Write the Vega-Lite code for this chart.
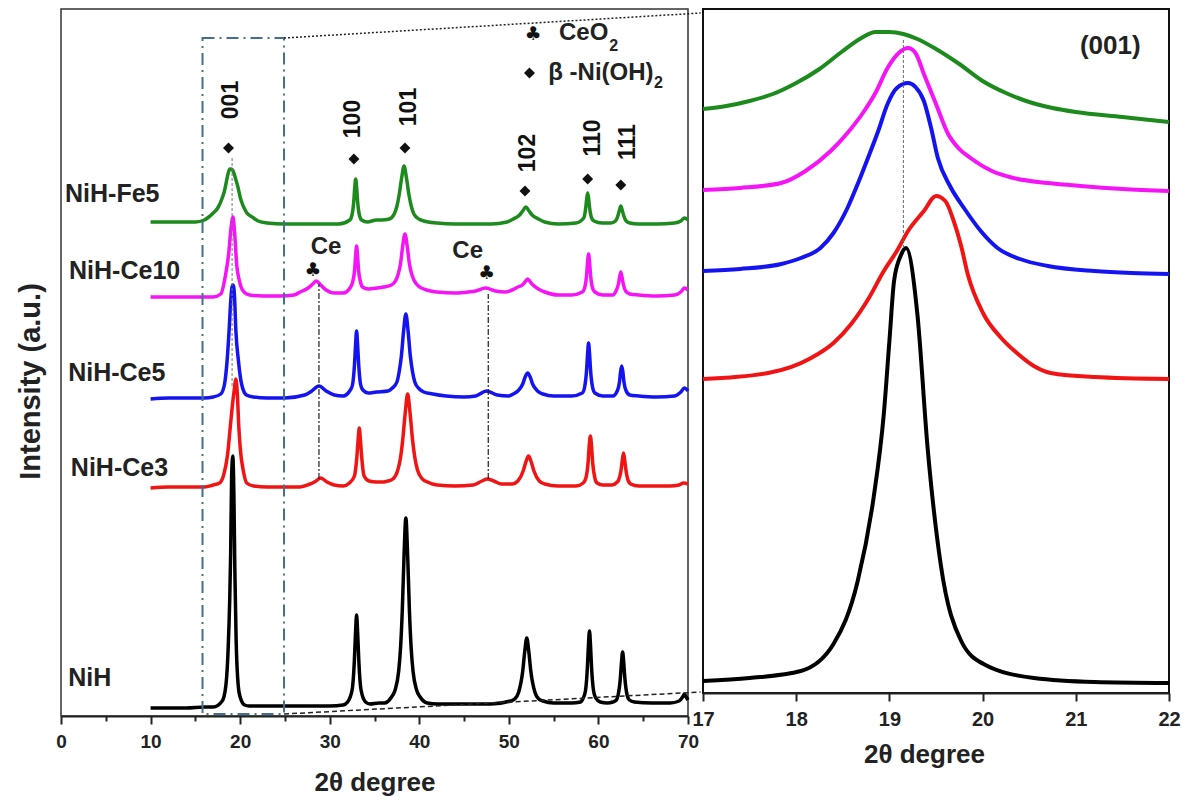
{
"$schema": "https://vega.github.io/schema/vega-lite/v6.json",
"padding": {"left": 15, "top": 8, "right": 5, "bottom": 5},
"background": "white",
"config": {"font": "Liberation Sans", "text": {"font": "Liberation Sans", "fontWeight": "bold", "color": "#111"}},
"datasets": {
"left": [
{"s":"NiH","x":10,"y":8},{"s":"NiH","x":12,"y":8},{"s":"NiH","x":14,"y":8},{"s":"NiH","x":16,"y":9},{"s":"NiH","x":17,"y":9},{"s":"NiH","x":18.0,"y":15},{"s":"NiH","x":18.4,"y":30},{"s":"NiH","x":18.66,"y":67},{"s":"NiH","x":18.83,"y":114},{"s":"NiH","x":18.94,"y":162},{"s":"NiH","x":19.05,"y":240},{"s":"NiH","x":19.18,"y":260},{"s":"NiH","x":19.3,"y":222},{"s":"NiH","x":19.41,"y":145},{"s":"NiH","x":19.55,"y":77},{"s":"NiH","x":19.77,"y":32},{"s":"NiH","x":20.0,"y":19},{"s":"NiH","x":20.5,"y":11},{"s":"NiH","x":21,"y":10},{"s":"NiH","x":22,"y":10},{"s":"NiH","x":24,"y":10},{"s":"NiH","x":26,"y":10},{"s":"NiH","x":28,"y":10},{"s":"NiH","x":30,"y":10},{"s":"NiH","x":31.5,"y":11},{"s":"NiH","x":32.0,"y":14},{"s":"NiH","x":32.5,"y":26},{"s":"NiH","x":32.75,"y":55},{"s":"NiH","x":32.88,"y":83},{"s":"NiH","x":33.0,"y":101},{"s":"NiH","x":33.12,"y":83},{"s":"NiH","x":33.25,"y":55},{"s":"NiH","x":33.5,"y":26},{"s":"NiH","x":34.0,"y":14},{"s":"NiH","x":34.5,"y":12},{"s":"NiH","x":35.5,"y":13},{"s":"NiH","x":36.1,"y":13},{"s":"NiH","x":36.9,"y":19},{"s":"NiH","x":37.3,"y":26},{"s":"NiH","x":37.7,"y":45},{"s":"NiH","x":37.9,"y":67},{"s":"NiH","x":38.1,"y":105},{"s":"NiH","x":38.3,"y":161},{"s":"NiH","x":38.5,"y":198},{"s":"NiH","x":38.7,"y":161},{"s":"NiH","x":38.9,"y":105},{"s":"NiH","x":39.1,"y":67},{"s":"NiH","x":39.3,"y":45},{"s":"NiH","x":39.7,"y":26},{"s":"NiH","x":40.1,"y":19},{"s":"NiH","x":40.9,"y":13},{"s":"NiH","x":42,"y":12},{"s":"NiH","x":44,"y":12},{"s":"NiH","x":46,"y":12},{"s":"NiH","x":48,"y":12},{"s":"NiH","x":50.2,"y":15},{"s":"NiH","x":50.65,"y":17},{"s":"NiH","x":51.1,"y":24},{"s":"NiH","x":51.55,"y":45},{"s":"NiH","x":51.78,"y":65},{"s":"NiH","x":52.0,"y":78},{"s":"NiH","x":52.22,"y":65},{"s":"NiH","x":52.45,"y":45},{"s":"NiH","x":52.9,"y":24},{"s":"NiH","x":53.35,"y":17},{"s":"NiH","x":53.8,"y":15},{"s":"NiH","x":55,"y":13},{"s":"NiH","x":57,"y":13},{"s":"NiH","x":58.0,"y":14},{"s":"NiH","x":58.3,"y":18},{"s":"NiH","x":58.55,"y":25},{"s":"NiH","x":58.77,"y":49},{"s":"NiH","x":58.88,"y":70},{"s":"NiH","x":59.0,"y":85},{"s":"NiH","x":59.12,"y":70},{"s":"NiH","x":59.23,"y":49},{"s":"NiH","x":59.46,"y":25},{"s":"NiH","x":59.7,"y":18},{"s":"NiH","x":60.2,"y":14},{"s":"NiH","x":61.0,"y":13},{"s":"NiH","x":61.6,"y":14},{"s":"NiH","x":62.0,"y":16},{"s":"NiH","x":62.2,"y":21},{"s":"NiH","x":62.45,"y":38},{"s":"NiH","x":62.58,"y":54},{"s":"NiH","x":62.7,"y":64},{"s":"NiH","x":62.82,"y":54},{"s":"NiH","x":62.95,"y":38},{"s":"NiH","x":63.2,"y":21},{"s":"NiH","x":63.45,"y":16},{"s":"NiH","x":64,"y":14},{"s":"NiH","x":66,"y":13},{"s":"NiH","x":68,"y":13},{"s":"NiH","x":69.0,"y":15},{"s":"NiH","x":69.4,"y":19},{"s":"NiH","x":69.6,"y":22},{"s":"NiH","x":69.8,"y":19},{"s":"NiH","x":70,"y":16},
{"s":"NiH-Ce3","x":10,"y":228},{"s":"NiH-Ce3","x":12,"y":229},{"s":"NiH-Ce3","x":14,"y":229},{"s":"NiH-Ce3","x":16,"y":229},{"s":"NiH-Ce3","x":17.0,"y":231},{"s":"NiH-Ce3","x":17.7,"y":233},{"s":"NiH-Ce3","x":18.16,"y":241},{"s":"NiH-Ce3","x":18.59,"y":261},{"s":"NiH-Ce3","x":18.94,"y":293},{"s":"NiH-Ce3","x":19.2,"y":316},{"s":"NiH-Ce3","x":19.37,"y":328},{"s":"NiH-Ce3","x":19.5,"y":337},{"s":"NiH-Ce3","x":19.69,"y":322},{"s":"NiH-Ce3","x":19.84,"y":291},{"s":"NiH-Ce3","x":20.01,"y":268},{"s":"NiH-Ce3","x":20.38,"y":244},{"s":"NiH-Ce3","x":20.73,"y":233},{"s":"NiH-Ce3","x":21.5,"y":230},{"s":"NiH-Ce3","x":23,"y":229},{"s":"NiH-Ce3","x":25,"y":229},{"s":"NiH-Ce3","x":26.5,"y":229},{"s":"NiH-Ce3","x":27.5,"y":231},{"s":"NiH-Ce3","x":28.3,"y":234},{"s":"NiH-Ce3","x":29.0,"y":238},{"s":"NiH-Ce3","x":29.7,"y":234},{"s":"NiH-Ce3","x":30.5,"y":231},{"s":"NiH-Ce3","x":31.5,"y":230},{"s":"NiH-Ce3","x":32.2,"y":233},{"s":"NiH-Ce3","x":32.76,"y":240},{"s":"NiH-Ce3","x":33.03,"y":259},{"s":"NiH-Ce3","x":33.17,"y":276},{"s":"NiH-Ce3","x":33.3,"y":288},{"s":"NiH-Ce3","x":33.43,"y":276},{"s":"NiH-Ce3","x":33.57,"y":259},{"s":"NiH-Ce3","x":33.84,"y":240},{"s":"NiH-Ce3","x":34.4,"y":235},{"s":"NiH-Ce3","x":35.2,"y":234},{"s":"NiH-Ce3","x":36.0,"y":234},{"s":"NiH-Ce3","x":36.5,"y":235},{"s":"NiH-Ce3","x":37.05,"y":237},{"s":"NiH-Ce3","x":37.6,"y":246},{"s":"NiH-Ce3","x":37.88,"y":257},{"s":"NiH-Ce3","x":38.15,"y":276},{"s":"NiH-Ce3","x":38.43,"y":303},{"s":"NiH-Ce3","x":38.7,"y":322},{"s":"NiH-Ce3","x":38.97,"y":303},{"s":"NiH-Ce3","x":39.25,"y":276},{"s":"NiH-Ce3","x":39.53,"y":257},{"s":"NiH-Ce3","x":39.8,"y":246},{"s":"NiH-Ce3","x":40.35,"y":237},{"s":"NiH-Ce3","x":40.9,"y":234},{"s":"NiH-Ce3","x":42,"y":231},{"s":"NiH-Ce3","x":44,"y":230},{"s":"NiH-Ce3","x":46.0,"y":231},{"s":"NiH-Ce3","x":47.0,"y":235},{"s":"NiH-Ce3","x":47.6,"y":237},{"s":"NiH-Ce3","x":48.3,"y":235},{"s":"NiH-Ce3","x":49.2,"y":232},{"s":"NiH-Ce3","x":50.4,"y":232},{"s":"NiH-Ce3","x":51.0,"y":235},{"s":"NiH-Ce3","x":51.6,"y":245},{"s":"NiH-Ce3","x":51.9,"y":254},{"s":"NiH-Ce3","x":52.2,"y":260},{"s":"NiH-Ce3","x":52.5,"y":254},{"s":"NiH-Ce3","x":52.8,"y":245},{"s":"NiH-Ce3","x":53.4,"y":235},{"s":"NiH-Ce3","x":54.0,"y":232},{"s":"NiH-Ce3","x":55.5,"y":230},{"s":"NiH-Ce3","x":57.5,"y":230},{"s":"NiH-Ce3","x":58.3,"y":233},{"s":"NiH-Ce3","x":58.6,"y":238},{"s":"NiH-Ce3","x":58.85,"y":254},{"s":"NiH-Ce3","x":58.97,"y":270},{"s":"NiH-Ce3","x":59.1,"y":280},{"s":"NiH-Ce3","x":59.23,"y":270},{"s":"NiH-Ce3","x":59.35,"y":254},{"s":"NiH-Ce3","x":59.6,"y":238},{"s":"NiH-Ce3","x":59.85,"y":233},{"s":"NiH-Ce3","x":60.5,"y":231},{"s":"NiH-Ce3","x":61.5,"y":231},{"s":"NiH-Ce3","x":62.1,"y":234},{"s":"NiH-Ce3","x":62.26,"y":236},{"s":"NiH-Ce3","x":62.53,"y":246},{"s":"NiH-Ce3","x":62.67,"y":256},{"s":"NiH-Ce3","x":62.8,"y":263},{"s":"NiH-Ce3","x":62.93,"y":256},{"s":"NiH-Ce3","x":63.07,"y":246},{"s":"NiH-Ce3","x":63.34,"y":235},{"s":"NiH-Ce3","x":63.6,"y":232},{"s":"NiH-Ce3","x":64.5,"y":230},{"s":"NiH-Ce3","x":66,"y":230},{"s":"NiH-Ce3","x":68,"y":230},{"s":"NiH-Ce3","x":69.0,"y":231},{"s":"NiH-Ce3","x":69.5,"y":233},{"s":"NiH-Ce3","x":70,"y":232},
{"s":"NiH-Ce5","x":10,"y":317},{"s":"NiH-Ce5","x":12,"y":318},{"s":"NiH-Ce5","x":14,"y":318},{"s":"NiH-Ce5","x":16,"y":318},{"s":"NiH-Ce5","x":17.0,"y":319},{"s":"NiH-Ce5","x":17.84,"y":322},{"s":"NiH-Ce5","x":18.26,"y":332},{"s":"NiH-Ce5","x":18.55,"y":356},{"s":"NiH-Ce5","x":18.77,"y":386},{"s":"NiH-Ce5","x":18.98,"y":419},{"s":"NiH-Ce5","x":19.1,"y":429},{"s":"NiH-Ce5","x":19.2,"y":431},{"s":"NiH-Ce5","x":19.3,"y":428},{"s":"NiH-Ce5","x":19.37,"y":420},{"s":"NiH-Ce5","x":19.52,"y":386},{"s":"NiH-Ce5","x":19.8,"y":356},{"s":"NiH-Ce5","x":20.16,"y":332},{"s":"NiH-Ce5","x":20.7,"y":321},{"s":"NiH-Ce5","x":21.5,"y":319},{"s":"NiH-Ce5","x":23,"y":318},{"s":"NiH-Ce5","x":25,"y":318},{"s":"NiH-Ce5","x":27.2,"y":321},{"s":"NiH-Ce5","x":28.0,"y":325},{"s":"NiH-Ce5","x":28.8,"y":330},{"s":"NiH-Ce5","x":29.6,"y":325},{"s":"NiH-Ce5","x":30.5,"y":321},{"s":"NiH-Ce5","x":31.5,"y":320},{"s":"NiH-Ce5","x":32.3,"y":326},{"s":"NiH-Ce5","x":32.54,"y":331},{"s":"NiH-Ce5","x":32.77,"y":352},{"s":"NiH-Ce5","x":32.89,"y":372},{"s":"NiH-Ce5","x":33.0,"y":385},{"s":"NiH-Ce5","x":33.11,"y":372},{"s":"NiH-Ce5","x":33.23,"y":352},{"s":"NiH-Ce5","x":33.46,"y":331},{"s":"NiH-Ce5","x":33.7,"y":326},{"s":"NiH-Ce5","x":34.3,"y":323},{"s":"NiH-Ce5","x":35.2,"y":324},{"s":"NiH-Ce5","x":36.5,"y":325},{"s":"NiH-Ce5","x":37.0,"y":328},{"s":"NiH-Ce5","x":37.5,"y":334},{"s":"NiH-Ce5","x":37.75,"y":344},{"s":"NiH-Ce5","x":38.0,"y":360},{"s":"NiH-Ce5","x":38.25,"y":385},{"s":"NiH-Ce5","x":38.5,"y":402},{"s":"NiH-Ce5","x":38.75,"y":385},{"s":"NiH-Ce5","x":39.0,"y":360},{"s":"NiH-Ce5","x":39.25,"y":344},{"s":"NiH-Ce5","x":39.5,"y":334},{"s":"NiH-Ce5","x":40.0,"y":327},{"s":"NiH-Ce5","x":40.5,"y":324},{"s":"NiH-Ce5","x":41.5,"y":322},{"s":"NiH-Ce5","x":43,"y":320},{"s":"NiH-Ce5","x":45,"y":319},{"s":"NiH-Ce5","x":46.3,"y":320},{"s":"NiH-Ce5","x":47.5,"y":325},{"s":"NiH-Ce5","x":48.7,"y":321},{"s":"NiH-Ce5","x":50,"y":320},{"s":"NiH-Ce5","x":50.5,"y":322},{"s":"NiH-Ce5","x":51.0,"y":325},{"s":"NiH-Ce5","x":51.55,"y":332},{"s":"NiH-Ce5","x":51.82,"y":339},{"s":"NiH-Ce5","x":52.1,"y":343},{"s":"NiH-Ce5","x":52.38,"y":339},{"s":"NiH-Ce5","x":52.65,"y":332},{"s":"NiH-Ce5","x":53.2,"y":325},{"s":"NiH-Ce5","x":53.8,"y":322},{"s":"NiH-Ce5","x":55,"y":320},{"s":"NiH-Ce5","x":57,"y":320},{"s":"NiH-Ce5","x":58.2,"y":323},{"s":"NiH-Ce5","x":58.46,"y":329},{"s":"NiH-Ce5","x":58.68,"y":346},{"s":"NiH-Ce5","x":58.79,"y":362},{"s":"NiH-Ce5","x":58.9,"y":373},{"s":"NiH-Ce5","x":59.01,"y":362},{"s":"NiH-Ce5","x":59.12,"y":346},{"s":"NiH-Ce5","x":59.34,"y":329},{"s":"NiH-Ce5","x":59.6,"y":323},{"s":"NiH-Ce5","x":60.5,"y":320},{"s":"NiH-Ce5","x":61.6,"y":320},{"s":"NiH-Ce5","x":62.1,"y":325},{"s":"NiH-Ce5","x":62.35,"y":334},{"s":"NiH-Ce5","x":62.47,"y":344},{"s":"NiH-Ce5","x":62.6,"y":350},{"s":"NiH-Ce5","x":62.73,"y":344},{"s":"NiH-Ce5","x":62.85,"y":334},{"s":"NiH-Ce5","x":63.1,"y":325},{"s":"NiH-Ce5","x":63.5,"y":321},{"s":"NiH-Ce5","x":64.5,"y":320},{"s":"NiH-Ce5","x":66.5,"y":319},{"s":"NiH-Ce5","x":68.5,"y":320},{"s":"NiH-Ce5","x":69.2,"y":324},{"s":"NiH-Ce5","x":69.6,"y":328},{"s":"NiH-Ce5","x":70,"y":325},
{"s":"NiH-Ce10","x":10,"y":419},{"s":"NiH-Ce10","x":12,"y":419},{"s":"NiH-Ce10","x":14,"y":419},{"s":"NiH-Ce10","x":16,"y":419},{"s":"NiH-Ce10","x":17.0,"y":419},{"s":"NiH-Ce10","x":17.84,"y":422},{"s":"NiH-Ce10","x":18.37,"y":441},{"s":"NiH-Ce10","x":18.73,"y":463},{"s":"NiH-Ce10","x":18.98,"y":488},{"s":"NiH-Ce10","x":19.2,"y":499},{"s":"NiH-Ce10","x":19.37,"y":485},{"s":"NiH-Ce10","x":19.63,"y":450},{"s":"NiH-Ce10","x":19.87,"y":437},{"s":"NiH-Ce10","x":20.33,"y":425},{"s":"NiH-Ce10","x":21.05,"y":421},{"s":"NiH-Ce10","x":22.5,"y":420},{"s":"NiH-Ce10","x":24.5,"y":420},{"s":"NiH-Ce10","x":26.0,"y":421},{"s":"NiH-Ce10","x":26.7,"y":424},{"s":"NiH-Ce10","x":27.6,"y":428},{"s":"NiH-Ce10","x":28.1,"y":432},{"s":"NiH-Ce10","x":28.5,"y":435},{"s":"NiH-Ce10","x":29.0,"y":431},{"s":"NiH-Ce10","x":29.6,"y":426},{"s":"NiH-Ce10","x":30.5,"y":423},{"s":"NiH-Ce10","x":31.5,"y":423},{"s":"NiH-Ce10","x":32.34,"y":429},{"s":"NiH-Ce10","x":32.56,"y":434},{"s":"NiH-Ce10","x":32.78,"y":446},{"s":"NiH-Ce10","x":32.89,"y":460},{"s":"NiH-Ce10","x":33.0,"y":470},{"s":"NiH-Ce10","x":33.11,"y":460},{"s":"NiH-Ce10","x":33.22,"y":446},{"s":"NiH-Ce10","x":33.44,"y":434},{"s":"NiH-Ce10","x":33.66,"y":429},{"s":"NiH-Ce10","x":34.3,"y":427},{"s":"NiH-Ce10","x":35.3,"y":428},{"s":"NiH-Ce10","x":36.0,"y":429},{"s":"NiH-Ce10","x":36.9,"y":431},{"s":"NiH-Ce10","x":37.4,"y":436},{"s":"NiH-Ce10","x":37.65,"y":442},{"s":"NiH-Ce10","x":37.9,"y":452},{"s":"NiH-Ce10","x":38.15,"y":470},{"s":"NiH-Ce10","x":38.4,"y":482},{"s":"NiH-Ce10","x":38.65,"y":470},{"s":"NiH-Ce10","x":38.9,"y":452},{"s":"NiH-Ce10","x":39.15,"y":442},{"s":"NiH-Ce10","x":39.4,"y":436},{"s":"NiH-Ce10","x":39.9,"y":430},{"s":"NiH-Ce10","x":40.8,"y":426},{"s":"NiH-Ce10","x":42,"y":424},{"s":"NiH-Ce10","x":44,"y":423},{"s":"NiH-Ce10","x":45.5,"y":424},{"s":"NiH-Ce10","x":46.3,"y":425},{"s":"NiH-Ce10","x":47.4,"y":428},{"s":"NiH-Ce10","x":48.5,"y":425},{"s":"NiH-Ce10","x":49.6,"y":424},{"s":"NiH-Ce10","x":50.6,"y":427},{"s":"NiH-Ce10","x":51.0,"y":429},{"s":"NiH-Ce10","x":51.5,"y":431},{"s":"NiH-Ce10","x":51.8,"y":434},{"s":"NiH-Ce10","x":52.1,"y":437},{"s":"NiH-Ce10","x":52.4,"y":434},{"s":"NiH-Ce10","x":52.7,"y":431},{"s":"NiH-Ce10","x":53.3,"y":427},{"s":"NiH-Ce10","x":54.0,"y":424},{"s":"NiH-Ce10","x":55.5,"y":421},{"s":"NiH-Ce10","x":57.0,"y":421},{"s":"NiH-Ce10","x":58.2,"y":424},{"s":"NiH-Ce10","x":58.46,"y":428},{"s":"NiH-Ce10","x":58.68,"y":441},{"s":"NiH-Ce10","x":58.79,"y":454},{"s":"NiH-Ce10","x":58.9,"y":462},{"s":"NiH-Ce10","x":59.01,"y":454},{"s":"NiH-Ce10","x":59.12,"y":441},{"s":"NiH-Ce10","x":59.34,"y":428},{"s":"NiH-Ce10","x":59.6,"y":424},{"s":"NiH-Ce10","x":60.5,"y":421},{"s":"NiH-Ce10","x":61.6,"y":421},{"s":"NiH-Ce10","x":61.96,"y":425},{"s":"NiH-Ce10","x":62.23,"y":432},{"s":"NiH-Ce10","x":62.37,"y":439},{"s":"NiH-Ce10","x":62.5,"y":444},{"s":"NiH-Ce10","x":62.63,"y":439},{"s":"NiH-Ce10","x":62.77,"y":432},{"s":"NiH-Ce10","x":63.04,"y":425},{"s":"NiH-Ce10","x":63.5,"y":422},{"s":"NiH-Ce10","x":64.5,"y":421},{"s":"NiH-Ce10","x":66.5,"y":420},{"s":"NiH-Ce10","x":68.5,"y":421},{"s":"NiH-Ce10","x":69.2,"y":424},{"s":"NiH-Ce10","x":69.6,"y":428},{"s":"NiH-Ce10","x":70,"y":426},
{"s":"NiH-Fe5","x":10,"y":494},{"s":"NiH-Fe5","x":12,"y":494},{"s":"NiH-Fe5","x":14,"y":494},{"s":"NiH-Fe5","x":15.0,"y":494},{"s":"NiH-Fe5","x":16.0,"y":496},{"s":"NiH-Fe5","x":16.5,"y":499},{"s":"NiH-Fe5","x":17.0,"y":503},{"s":"NiH-Fe5","x":17.5,"y":508},{"s":"NiH-Fe5","x":18.0,"y":518},{"s":"NiH-Fe5","x":18.25,"y":525},{"s":"NiH-Fe5","x":18.5,"y":536},{"s":"NiH-Fe5","x":18.7,"y":544},{"s":"NiH-Fe5","x":18.85,"y":547},{"s":"NiH-Fe5","x":19.0,"y":547},{"s":"NiH-Fe5","x":19.15,"y":546},{"s":"NiH-Fe5","x":19.3,"y":543},{"s":"NiH-Fe5","x":19.5,"y":537},{"s":"NiH-Fe5","x":19.75,"y":529},{"s":"NiH-Fe5","x":20.0,"y":519},{"s":"NiH-Fe5","x":20.25,"y":512},{"s":"NiH-Fe5","x":20.5,"y":507},{"s":"NiH-Fe5","x":20.75,"y":503},{"s":"NiH-Fe5","x":21.0,"y":501},{"s":"NiH-Fe5","x":21.5,"y":498},{"s":"NiH-Fe5","x":22.0,"y":495},{"s":"NiH-Fe5","x":23,"y":493},{"s":"NiH-Fe5","x":25,"y":492},{"s":"NiH-Fe5","x":27,"y":492},{"s":"NiH-Fe5","x":29,"y":492},{"s":"NiH-Fe5","x":31,"y":492},{"s":"NiH-Fe5","x":32.24,"y":496},{"s":"NiH-Fe5","x":32.46,"y":500},{"s":"NiH-Fe5","x":32.68,"y":514},{"s":"NiH-Fe5","x":32.79,"y":528},{"s":"NiH-Fe5","x":32.9,"y":537},{"s":"NiH-Fe5","x":33.01,"y":528},{"s":"NiH-Fe5","x":33.12,"y":514},{"s":"NiH-Fe5","x":33.34,"y":500},{"s":"NiH-Fe5","x":33.56,"y":496},{"s":"NiH-Fe5","x":34.2,"y":494},{"s":"NiH-Fe5","x":35.2,"y":496},{"s":"NiH-Fe5","x":35.8,"y":496},{"s":"NiH-Fe5","x":36.65,"y":497},{"s":"NiH-Fe5","x":37.2,"y":502},{"s":"NiH-Fe5","x":37.48,"y":509},{"s":"NiH-Fe5","x":37.75,"y":521},{"s":"NiH-Fe5","x":38.03,"y":538},{"s":"NiH-Fe5","x":38.3,"y":550},{"s":"NiH-Fe5","x":38.57,"y":538},{"s":"NiH-Fe5","x":38.85,"y":521},{"s":"NiH-Fe5","x":39.13,"y":509},{"s":"NiH-Fe5","x":39.4,"y":502},{"s":"NiH-Fe5","x":39.95,"y":497},{"s":"NiH-Fe5","x":40.5,"y":495},{"s":"NiH-Fe5","x":42,"y":493},{"s":"NiH-Fe5","x":44,"y":492},{"s":"NiH-Fe5","x":46,"y":492},{"s":"NiH-Fe5","x":48,"y":492},{"s":"NiH-Fe5","x":49.8,"y":494},{"s":"NiH-Fe5","x":50.5,"y":497},{"s":"NiH-Fe5","x":51.2,"y":501},{"s":"NiH-Fe5","x":51.55,"y":505},{"s":"NiH-Fe5","x":51.9,"y":509},{"s":"NiH-Fe5","x":52.25,"y":505},{"s":"NiH-Fe5","x":52.6,"y":501},{"s":"NiH-Fe5","x":53.3,"y":497},{"s":"NiH-Fe5","x":54.0,"y":494},{"s":"NiH-Fe5","x":55.5,"y":492},{"s":"NiH-Fe5","x":57.5,"y":493},{"s":"NiH-Fe5","x":58.36,"y":498},{"s":"NiH-Fe5","x":58.58,"y":508},{"s":"NiH-Fe5","x":58.69,"y":517},{"s":"NiH-Fe5","x":58.8,"y":523},{"s":"NiH-Fe5","x":58.91,"y":517},{"s":"NiH-Fe5","x":59.02,"y":508},{"s":"NiH-Fe5","x":59.24,"y":498},{"s":"NiH-Fe5","x":59.5,"y":495},{"s":"NiH-Fe5","x":60.4,"y":493},{"s":"NiH-Fe5","x":61.4,"y":493},{"s":"NiH-Fe5","x":61.9,"y":495},{"s":"NiH-Fe5","x":62.2,"y":501},{"s":"NiH-Fe5","x":62.35,"y":506},{"s":"NiH-Fe5","x":62.5,"y":510},{"s":"NiH-Fe5","x":62.65,"y":506},{"s":"NiH-Fe5","x":62.8,"y":501},{"s":"NiH-Fe5","x":63.1,"y":495},{"s":"NiH-Fe5","x":63.5,"y":493},{"s":"NiH-Fe5","x":64.5,"y":492},{"s":"NiH-Fe5","x":66.5,"y":492},{"s":"NiH-Fe5","x":68.5,"y":493},{"s":"NiH-Fe5","x":69.2,"y":495},{"s":"NiH-Fe5","x":69.6,"y":498},{"s":"NiH-Fe5","x":70,"y":496}
],
"right": [
{"s":"NiH-Fe5","x":17.0,"y":584},{"s":"NiH-Fe5","x":17.25,"y":587},{"s":"NiH-Fe5","x":17.5,"y":592},{"s":"NiH-Fe5","x":17.75,"y":599},{"s":"NiH-Fe5","x":18.0,"y":610},{"s":"NiH-Fe5","x":18.25,"y":624},{"s":"NiH-Fe5","x":18.5,"y":642},{"s":"NiH-Fe5","x":18.7,"y":655},{"s":"NiH-Fe5","x":18.85,"y":661},{"s":"NiH-Fe5","x":19.0,"y":661},{"s":"NiH-Fe5","x":19.15,"y":659},{"s":"NiH-Fe5","x":19.3,"y":654},{"s":"NiH-Fe5","x":19.5,"y":644},{"s":"NiH-Fe5","x":19.75,"y":629},{"s":"NiH-Fe5","x":20.0,"y":612},{"s":"NiH-Fe5","x":20.25,"y":600},{"s":"NiH-Fe5","x":20.5,"y":591},{"s":"NiH-Fe5","x":20.75,"y":585},{"s":"NiH-Fe5","x":21.0,"y":581},{"s":"NiH-Fe5","x":21.5,"y":576},{"s":"NiH-Fe5","x":22.0,"y":571},
{"s":"NiH-Ce10","x":17.0,"y":503},{"s":"NiH-Ce10","x":17.4,"y":505},{"s":"NiH-Ce10","x":17.84,"y":510},{"s":"NiH-Ce10","x":18.1,"y":522},{"s":"NiH-Ce10","x":18.37,"y":542},{"s":"NiH-Ce10","x":18.55,"y":560},{"s":"NiH-Ce10","x":18.73,"y":582},{"s":"NiH-Ce10","x":18.85,"y":600},{"s":"NiH-Ce10","x":18.98,"y":625},{"s":"NiH-Ce10","x":19.1,"y":640},{"s":"NiH-Ce10","x":19.2,"y":645},{"s":"NiH-Ce10","x":19.28,"y":640},{"s":"NiH-Ce10","x":19.37,"y":619},{"s":"NiH-Ce10","x":19.5,"y":589},{"s":"NiH-Ce10","x":19.63,"y":559},{"s":"NiH-Ce10","x":19.75,"y":544},{"s":"NiH-Ce10","x":19.87,"y":535},{"s":"NiH-Ce10","x":20.1,"y":522},{"s":"NiH-Ce10","x":20.33,"y":515},{"s":"NiH-Ce10","x":20.7,"y":510},{"s":"NiH-Ce10","x":21.05,"y":507},{"s":"NiH-Ce10","x":21.5,"y":504},{"s":"NiH-Ce10","x":22.0,"y":502},
{"s":"NiH-Ce5","x":17.0,"y":422},{"s":"NiH-Ce5","x":17.4,"y":424},{"s":"NiH-Ce5","x":17.84,"y":429},{"s":"NiH-Ce5","x":18.05,"y":435},{"s":"NiH-Ce5","x":18.26,"y":445},{"s":"NiH-Ce5","x":18.4,"y":460},{"s":"NiH-Ce5","x":18.55,"y":485},{"s":"NiH-Ce5","x":18.66,"y":509},{"s":"NiH-Ce5","x":18.77,"y":535},{"s":"NiH-Ce5","x":18.88,"y":562},{"s":"NiH-Ce5","x":18.98,"y":589},{"s":"NiH-Ce5","x":19.08,"y":605},{"s":"NiH-Ce5","x":19.2,"y":610},{"s":"NiH-Ce5","x":19.28,"y":606},{"s":"NiH-Ce5","x":19.37,"y":592},{"s":"NiH-Ce5","x":19.45,"y":564},{"s":"NiH-Ce5","x":19.52,"y":535},{"s":"NiH-Ce5","x":19.65,"y":507},{"s":"NiH-Ce5","x":19.8,"y":485},{"s":"NiH-Ce5","x":19.98,"y":462},{"s":"NiH-Ce5","x":20.16,"y":445},{"s":"NiH-Ce5","x":20.4,"y":434},{"s":"NiH-Ce5","x":20.7,"y":427},{"s":"NiH-Ce5","x":21.2,"y":422},{"s":"NiH-Ce5","x":21.6,"y":420},{"s":"NiH-Ce5","x":22.0,"y":419},
{"s":"NiH-Ce3","x":17.0,"y":314},{"s":"NiH-Ce3","x":17.7,"y":320},{"s":"NiH-Ce3","x":18.16,"y":335},{"s":"NiH-Ce3","x":18.4,"y":350},{"s":"NiH-Ce3","x":18.59,"y":369},{"s":"NiH-Ce3","x":18.78,"y":395},{"s":"NiH-Ce3","x":18.94,"y":422},{"s":"NiH-Ce3","x":19.08,"y":442},{"s":"NiH-Ce3","x":19.2,"y":462},{"s":"NiH-Ce3","x":19.37,"y":482},{"s":"NiH-Ce3","x":19.5,"y":497},{"s":"NiH-Ce3","x":19.6,"y":492},{"s":"NiH-Ce3","x":19.69,"y":472},{"s":"NiH-Ce3","x":19.77,"y":447},{"s":"NiH-Ce3","x":19.84,"y":419},{"s":"NiH-Ce3","x":20.01,"y":379},{"s":"NiH-Ce3","x":20.2,"y":355},{"s":"NiH-Ce3","x":20.38,"y":339},{"s":"NiH-Ce3","x":20.55,"y":327},{"s":"NiH-Ce3","x":20.73,"y":320},{"s":"NiH-Ce3","x":21.2,"y":316},{"s":"NiH-Ce3","x":22.0,"y":314},
{"s":"NiH","x":17.0,"y":12},{"s":"NiH","x":17.5,"y":15},{"s":"NiH","x":18.05,"y":22},{"s":"NiH","x":18.4,"y":49},{"s":"NiH","x":18.66,"y":112},{"s":"NiH","x":18.83,"y":195},{"s":"NiH","x":18.94,"y":279},{"s":"NiH","x":19.0,"y":352},{"s":"NiH","x":19.05,"y":412},{"s":"NiH","x":19.12,"y":437},{"s":"NiH","x":19.18,"y":445},{"s":"NiH","x":19.3,"y":379},{"s":"NiH","x":19.41,"y":245},{"s":"NiH","x":19.55,"y":129},{"s":"NiH","x":19.77,"y":52},{"s":"NiH","x":20.01,"y":29},{"s":"NiH","x":20.55,"y":15},{"s":"NiH","x":21.2,"y":11},{"s":"NiH","x":22.0,"y":10}
]
},
"hconcat": [
{
"width": 627, "height": 707,
"view": {"stroke": "#333", "strokeWidth": 1.5},
"resolve": {"axis": {"x": "independent", "y": "independent"}},
"layer": [
{
"data": {"name": "left"},
"mark": {"type": "line", "strokeWidth": 3.5, "strokeJoin": "round", "interpolate": "monotone"},
"encoding": {
"x": {"field": "x", "type": "quantitative", "scale": {"domain": [0, 70], "nice": false, "zero": false},
"axis": {"values": [0,10,20,30,40,50,60,70], "format": "d", "title": "2θ degree", "titleFont": "Liberation Sans", "titleFontSize": 26, "titleFontWeight": "bold", "titleColor": "#222", "titlePadding": 18, "labelFont": "Liberation Sans", "labelFontSize": 19, "labelFontWeight": "bold", "labelColor": "#222", "labelPadding": 8, "labelFlush": false, "tickSize": 8, "tickWidth": 2, "tickColor": "#222", "domain": true, "domainColor": "#222", "domainWidth": 2, "grid": false}},
"y": {"field": "y", "type": "quantitative", "scale": {"domain": [0, 707], "nice": false, "zero": false},
"axis": {"title": "Intensity (a.u.)", "labels": false, "ticks": false, "domain": false, "grid": false, "titleFont": "Liberation Sans", "titleFontSize": 29, "titleFontWeight": "bold", "titleColor": "#222", "titlePadding": 16, "titleY": 372}},
"color": {"field": "s", "type": "nominal", "legend": null,
"scale": {"domain": ["NiH", "NiH-Ce3", "NiH-Ce5", "NiH-Ce10", "NiH-Fe5"], "range": ["#000000", "#f01414", "#1414f0", "#f514f5", "#1d8a1d"]}}
}
},
{
"data": {"values": [{"x1": 15.8, "x2": 24.9, "y1": 2, "y2": 678}]},
"mark": {"type": "rect", "fill": null, "fillOpacity": 0, "stroke": "#466f8e", "strokeWidth": 2, "strokeDash": [12, 5, 2, 5]},
"encoding": {
"x": {"field": "x1", "type": "quantitative", "axis": {"orient": "bottom", "values": [5,15,25,35,45,55,65], "labels": false, "domain": false, "grid": false, "title": null, "tickSize": 5, "tickWidth": 2, "tickColor": "#222"}},
"x2": {"field": "x2"},
"y": {"field": "y1", "type": "quantitative", "axis": null},
"y2": {"field": "y2"}
}
},
{
"data": {"values": [{"x": 24.9, "y": 678}, {"x": 71.4, "y": 703}]},
"mark": {"type": "line", "color": "#222", "strokeWidth": 1.5, "strokeDash": [2, 2]},
"encoding": {"x": {"field": "x", "type": "quantitative", "axis": null}, "y": {"field": "y", "type": "quantitative", "axis": null}}
},
{
"data": {"values": [{"x": 24.9, "y": 2}, {"x": 71.4, "y": 24}]},
"mark": {"type": "line", "color": "#222", "strokeWidth": 1.5, "strokeDash": [5, 3]},
"encoding": {"x": {"field": "x", "type": "quantitative", "axis": null}, "y": {"field": "y", "type": "quantitative", "axis": null}}
},
{
"data": {"values": [{"x": 28.8, "y1": 237, "y2": 432}, {"x": 47.7, "y1": 237, "y2": 422}]},
"mark": {"type": "rule", "color": "#222", "strokeWidth": 1.2, "strokeDash": [6, 2, 2, 2]},
"encoding": {"x": {"field": "x", "type": "quantitative", "axis": null}, "y": {"field": "y1", "type": "quantitative", "axis": null}, "y2": {"field": "y2"}}
},
{
"data": {"values": [{"x": 19.1, "y1": 330, "y2": 560}]},
"mark": {"type": "rule", "color": "#777", "strokeWidth": 1, "strokeDash": [3, 2]},
"encoding": {"x": {"field": "x", "type": "quantitative", "axis": null}, "y": {"field": "y1", "type": "quantitative", "axis": null}, "y2": {"field": "y2"}}
},
{
"data": {"values": [{"t": "NiH-Fe5", "x": 0.45, "y": 522}, {"t": "NiH-Ce10", "x": 0.9, "y": 445}, {"t": "NiH-Ce5", "x": 0.8, "y": 343}, {"t": "NiH-Ce3", "x": 1.1, "y": 248}, {"t": "NiH", "x": 0.8, "y": 38}]},
"mark": {"type": "text", "align": "left", "baseline": "middle", "fontSize": 25, "fontWeight": "bold", "color": "#222"},
"encoding": {"x": {"field": "x", "type": "quantitative", "axis": null}, "y": {"field": "y", "type": "quantitative", "axis": null}, "text": {"field": "t"}}
},
{
"data": {"values": [{"t": "001", "x": 19.0, "y": 616}, {"t": "100", "x": 32.6, "y": 597}, {"t": "101", "x": 38.9, "y": 609}, {"t": "102", "x": 52.1, "y": 563}, {"t": "110", "x": 59.4, "y": 578}, {"t": "111", "x": 63.3, "y": 574}]},
"mark": {"type": "text", "align": "center", "baseline": "middle", "angle": 270, "fontSize": 23, "fontWeight": "bold", "color": "#111"},
"encoding": {"x": {"field": "x", "type": "quantitative", "axis": null}, "y": {"field": "y", "type": "quantitative", "axis": null}, "text": {"field": "t"}}
},
{
"data": {"values": [{"x": 18.7, "y": 568}, {"x": 32.7, "y": 557}, {"x": 38.4, "y": 568}, {"x": 51.8, "y": 525}, {"x": 58.8, "y": 537}, {"x": 62.5, "y": 531}, {"x": 52.3, "y": 643}]},
"mark": {"type": "point", "shape": "diamond", "filled": true, "color": "#111", "size": 120, "opacity": 1},
"encoding": {"x": {"field": "x", "type": "quantitative", "axis": null}, "y": {"field": "y", "type": "quantitative", "axis": null}}
},
{
"data": {"values": [{"t": "♣", "x": 28.1, "y": 446}, {"t": "♣", "x": 47.5, "y": 443}, {"t": "♣", "x": 52.7, "y": 682}]},
"mark": {"type": "text", "align": "center", "baseline": "middle", "font": "DejaVu Sans", "fontSize": 19, "fontWeight": "normal", "color": "#111"},
"encoding": {"x": {"field": "x", "type": "quantitative", "axis": null}, "y": {"field": "y", "type": "quantitative", "axis": null}, "text": {"field": "t"}}
},
{
"data": {"values": [{"t": "Ce", "x": 29.6, "y": 469}, {"t": "Ce", "x": 45.4, "y": 465}]},
"mark": {"type": "text", "align": "center", "baseline": "middle", "fontSize": 24, "fontWeight": "bold", "color": "#222"},
"encoding": {"x": {"field": "x", "type": "quantitative", "axis": null}, "y": {"field": "y", "type": "quantitative", "axis": null}, "text": {"field": "t"}}
},
{
"data": {"values": [{"t": "CeO", "x": 55.6, "y": 683}, {"t": "β -Ni(OH)", "x": 54.4, "y": 643}]},
"mark": {"type": "text", "align": "left", "baseline": "middle", "fontSize": 24, "fontWeight": "bold", "color": "#222"},
"encoding": {"x": {"field": "x", "type": "quantitative", "axis": null}, "y": {"field": "y", "type": "quantitative", "axis": null}, "text": {"field": "t"}}
},
{
"data": {"values": [{"t": "2", "x": 61.7, "y": 670}, {"t": "2", "x": 66.7, "y": 633}]},
"mark": {"type": "text", "align": "center", "baseline": "middle", "fontSize": 16, "fontWeight": "bold", "color": "#222"},
"encoding": {"x": {"field": "x", "type": "quantitative", "axis": null}, "y": {"field": "y", "type": "quantitative", "axis": null}, "text": {"field": "t"}}
}
]
},
{
"width": 466, "height": 684,
"view": {"stroke": "#111", "strokeWidth": 2},
"layer": [
{
"data": {"name": "right"},
"mark": {"type": "line", "strokeWidth": 4, "strokeJoin": "round", "interpolate": "monotone"},
"encoding": {
"x": {"field": "x", "type": "quantitative", "scale": {"domain": [17, 22], "nice": false, "zero": false},
"axis": {"values": [17,18,19,20,21,22], "format": "d", "title": "2θ degree", "titleFont": "Liberation Sans", "titleFontSize": 26, "titleFontWeight": "bold", "titleColor": "#222", "titlePadding": 12, "titleX": 221, "labelFont": "Liberation Sans", "labelFontSize": 20, "labelFontWeight": "bold", "labelColor": "#222", "labelPadding": 8, "labelFlush": false, "tickSize": 8, "tickWidth": 2, "tickColor": "#222", "domain": true, "domainColor": "#222", "domainWidth": 2, "grid": false}},
"y": {"field": "y", "type": "quantitative", "scale": {"domain": [0, 684], "nice": false, "zero": false}, "axis": null},
"color": {"field": "s", "type": "nominal", "legend": null,
"scale": {"domain": ["NiH", "NiH-Ce3", "NiH-Ce5", "NiH-Ce10", "NiH-Fe5"], "range": ["#000000", "#f01414", "#1414f0", "#f514f5", "#1d8a1d"]}}
}
},
{
"data": {"values": [{"x": 19.15, "y1": 445, "y2": 655}]},
"mark": {"type": "rule", "color": "#666", "strokeWidth": 1, "strokeDash": [3, 2]},
"encoding": {"x": {"field": "x", "type": "quantitative"}, "y": {"field": "y1", "type": "quantitative"}, "y2": {"field": "y2"}}
},
{
"data": {"values": [{"t": "(001)", "x": 21.37, "y": 647}]},
"mark": {"type": "text", "align": "center", "baseline": "middle", "fontSize": 26, "fontWeight": "bold", "color": "#222"},
"encoding": {"x": {"field": "x", "type": "quantitative"}, "y": {"field": "y", "type": "quantitative"}, "text": {"field": "t"}}
}
]
}
],
"spacing": 15,
"bounds": "flush"
}
